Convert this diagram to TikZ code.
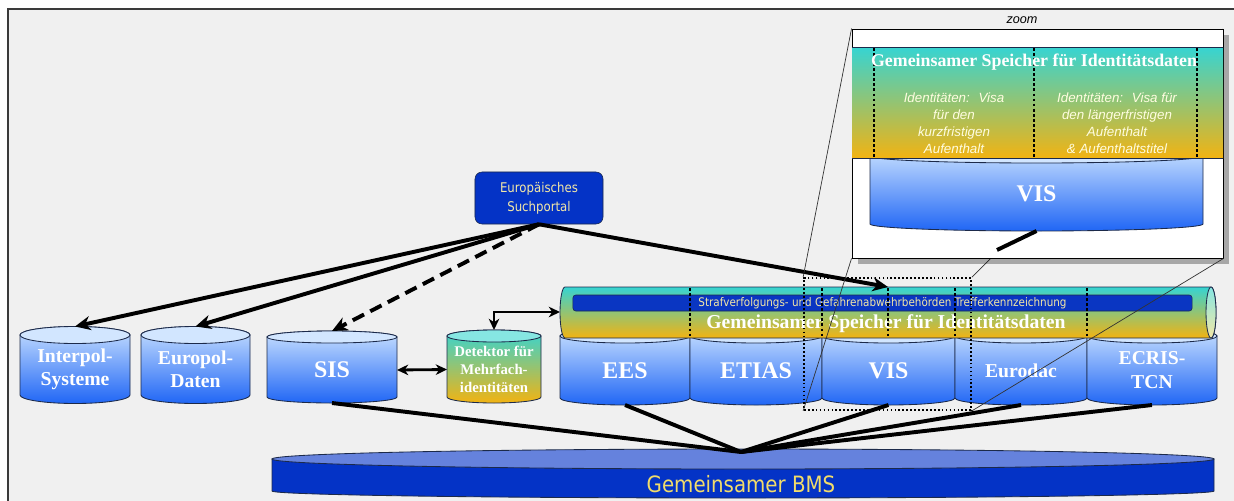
\documentclass[tikz,border=0pt]{standalone}
\usepackage{fontspec}
\setmainfont{Liberation Serif}
\setsansfont{Liberation Sans}
\newfontfamily\tahoma[FakeStretch=0.88]{DejaVu Sans}
\usepackage{tikz}
\usetikzlibrary{arrows.meta}
\usetikzlibrary{shadows,positioning}
\definecolor{bgGray}{HTML}{F0F0F0}
\definecolor{frameGray}{HTML}{3A3A3A}
\definecolor{edgeNavy}{HTML}{1C2A4A}
\definecolor{cylTop}{HTML}{C8E0FF}
\definecolor{cylBot}{HTML}{2066F5}
\definecolor{capBlue}{HTML}{D2E6FF}
\definecolor{idTeal}{HTML}{36D4D2}
\definecolor{idMid}{HTML}{9CC25A}
\definecolor{idOrange}{HTML}{F2B312}
\definecolor{capTeal}{HTML}{86E6E2}
\definecolor{barBlue}{HTML}{0A36C2}
\definecolor{paleText}{HTML}{F3E7A6}
\definecolor{bmsBlue}{HTML}{0433C6}
\definecolor{bmsTop}{HTML}{6582DD}
\definecolor{bmsText}{HTML}{F2DC6A}
\colorlet{creamText}{yellow!12!white}
\tikzset{>={Stealth[length=11pt,width=10pt,inset=3.5pt]},
  cyl/.style={top color=cylTop,bottom color=cylBot,draw=edgeNavy,line width=.6pt},
  cyl cap/.style={fill=capBlue,draw=edgeNavy,line width=.6pt},
  cylid/.style={top color=idTeal,middle color=idMid,bottom color=idOrange,draw=edgeNavy,line width=.6pt},
  cylid cap/.style={fill=capTeal,draw=edgeNavy,line width=.6pt},
  cyltext/.style={text=white,align=center,inner sep=0pt},
  f10/.style={font=\bfseries\fontsize{10.5}{13}\selectfont},
  f13/.style={font=\bfseries\fontsize{12.7}{15}\selectfont},
  f14/.style={font=\bfseries\fontsize{14}{17}\selectfont},
  f17/.style={font=\bfseries\fontsize{17}{20}\selectfont},
  link/.style={line width=2.8pt},
  thinlink/.style={line width=2pt,>={Stealth[length=8pt,width=7.5pt,inset=2.5pt]}},
  sep/.style={line width=2pt,dash pattern=on 2pt off 1.6pt},
  zoomline/.style={line width=.5pt,draw=black!80},
  zoomtext/.style={text=creamText,align=center,inner sep=0pt,
    font=\sffamily\itshape\fontsize{9.5}{12}\selectfont}}
% cylinder: [style]{name}{left}{right}{top}{bottom}{cap radius}{font}{label}
\newcommand{\dbcyl}[9][cyl]{%
  \pgfmathsetmacro\cylx{(#3+#4)/2}%
  \pgfmathsetmacro\cylr{(#4-#3)/2}%
  \shade[#1] (#3,#5) -- (#3,#6)
    arc[start angle=180,end angle=0,x radius=\cylr,y radius=#7]
    -- (#4,#5) arc[start angle=0,end angle=-180,x radius=\cylr,y radius=#7] -- cycle;
  \draw[#1 cap] (\cylx,#5) ellipse[x radius=\cylr,y radius=#7];
  \node[cyltext,#8] (#2) at (\cylx,{(#5+#7+#6)/2}) {#9};
  \coordinate (#2-top) at (\cylx,{#5-#7});
  \coordinate (#2-bot) at (\cylx,{#6+#7});
  \coordinate (#2-w) at (#3,{(#5+#7+#6)/2});
  \coordinate (#2-e) at (#4,{(#5+#7+#6)/2});}

\begin{document}
\begin{tikzpicture}[x=0.025cm,y=-0.025cm]
  \useasboundingbox (0,0) rectangle (1234,500);
  \draw[frameGray,fill=bgGray,line width=.8pt] (8,9) rectangle (1250,515);

  % BMS
  \draw[edgeNavy,fill=bmsBlue,line width=.6pt] (272,459) -- (272,491)
    arc[start angle=180,end angle=0,x radius=471,y radius=7] -- (1214,459) -- cycle;
  \draw[edgeNavy,fill=bmsTop,line width=.6pt] (743,459) ellipse[x radius=471,y radius=10];
  \node[text=bmsText,font=\tahoma\fontsize{16}{18}\selectfont] (bms) at (741,484) {Gemeinsamer BMS};
  \coordinate (bms-hub) at (741,452);

  \dbcyl{interpol}{20}{130}{335}{395}{8.5}{f14}{Interpol-\\Systeme}
  \dbcyl{europol}{141}{250}{335}{395}{8.5}{f14}{Europol-\\Daten}
  \dbcyl{sis}{267}{397}{337}{397}{6}{f17}{SIS}
  \dbcyl[cylid]{detektor}{447}{541}{336}{397}{6}{f10}{Detektor für\\Mehrfach-\\identitäten}
  \dbcyl{ees}{560}{690}{336}{398}{7}{f17}{EES}
  \dbcyl{etias}{690}{822}{336}{398}{7}{f17}{ETIAS}
  \dbcyl{vis}{822}{955}{336}{398}{7}{f17}{VIS}
  \dbcyl{eurodac}{955}{1087}{336}{398}{7}{f14}{Eurodac}
  \dbcyl{ecris}{1087}{1217}{336}{398}{7}{f14}{ECRIS-\\TCN}

  \foreach \c in {sis,ees,vis,eurodac,ecris}
    \draw[link] (\c-bot) -- (bms-hub);

  % shared identity repository
  \shade[cylid] (565,287) -- (1211,287)
    arc[start angle=-90,end angle=90,x radius=5,y radius=25.5]
    -- (565,338) arc[start angle=90,end angle=270,x radius=5,y radius=25.5] -- cycle;
  \draw[edgeNavy,line width=.6pt,top color=capTeal,bottom color=paleText] (1211,312.5) ellipse[x radius=5,y radius=25.5];
  \node[draw=edgeNavy,fill=barBlue,rounded corners=2pt,minimum width=15.475cm,minimum height=.4cm,
    inner sep=0pt,text=paleText,font=\tahoma\fontsize{8.4}{9}\selectfont] (bar) at (882.5,303)
    {Strafverfolgungs- und Gefahrenabwehrbehörden Trefferkennzeichnung};
  \node[cyltext,f14] (gsi) at (886,324) {Gemeinsamer Speicher für Identitätsdaten};
  \coordinate (gsi-vis) at (888,287);
  \coordinate (gsi-w) at (560,312);
  \foreach \x in {690,822,888,955,1087}
    \draw[sep] (\x,288) -- (\x,337);

  % search portal
  \node[draw=edgeNavy,fill=bmsBlue,rounded corners=5pt,minimum width=3.2cm,minimum height=1.3cm,
    align=center,text=paleText,font=\tahoma\fontsize{9.5}{13.5}\selectfont] (portal) at (539,198)
    {Europäisches\\Suchportal};
  \draw[link,->] (portal.south) -- (interpol-top);
  \draw[link,->] (portal.south) -- (europol-top);
  \draw[link,->,dash pattern=on 9pt off 5pt] (portal.south) -- (sis-top);
  \draw[link,->] (portal.south) -- (gsi-vis);
  \draw[thinlink,<->] (sis-e) -- (detektor-w);
  \draw[thinlink,<->] (detektor-top) |- (gsi-w);

  % zoom
  \node[draw,line width=1.2pt,dash pattern=on 1.2pt off 1.6pt,minimum width=4.175cm,minimum height=3.3cm,
    inner sep=0pt] (zoomsrc) at (887.5,344) {};
  \coordinate (zb-ne) at (1223,29);
  \draw[zoomline] (zoomsrc.north east) -- (zb-ne);
  \node[draw=black,fill=white,line width=.6pt,minimum width=9.275cm,minimum height=5.725cm,inner sep=0pt,
    drop shadow={shadow xshift=4pt,shadow yshift=-4pt,fill=black,opacity=.3}] (zoombox) at (1037.5,143.5) {};
  \node[font=\sffamily\itshape\fontsize{9}{10}\selectfont] (zoomlabel) at (1022,20) {zoom};
  \dbcyl{zvis}{870}{1203}{156}{224}{7}{f17}{VIS}
  \shade[top color=idTeal,middle color=idMid,bottom color=idOrange] (852,47) rectangle (1223,158);
  \draw[edgeNavy,line width=.5pt] (852,47) -- (1223,47) (852,158) -- (1223,158);
  \foreach \x in {874,1034,1197}
    \draw[sep] (\x,48) -- (\x,157);
  \node[cyltext,f13] (ztitle) at (1034,62) {Gemeinsamer Speicher für Identitätsdaten};
  \node[zoomtext] (zshort) at (954,123) {Identitäten:~ Visa\\für den\\kurzfristigen\\Aufenthalt};
  \node[zoomtext] (zlong) at (1117,123) {Identitäten:~ Visa für\\den längerfristigen\\Aufenthalt\\\& Aufenthaltstitel};
  \coordinate (zstub) at (997,250);
  \draw[link] (zvis-bot) -- (zstub);
  \draw[zoomline] (zoombox.north west) -- (zoomsrc.north west);
  \draw[zoomline] (zoombox.south west) -- (zoomsrc.south west);
  \draw[zoomline] (zoombox.south east) -- (zoomsrc.south east);
\end{tikzpicture}
\end{document}
